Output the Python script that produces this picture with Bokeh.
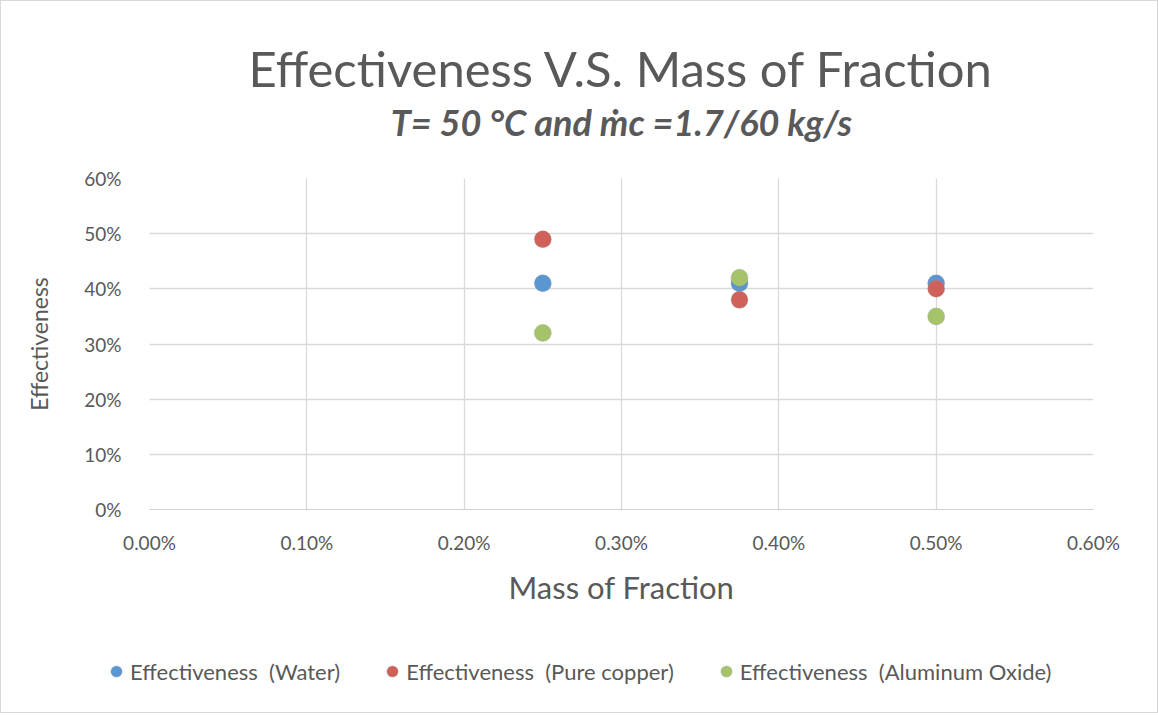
from bokeh.plotting import figure
from bokeh.layouts import column
from bokeh.models import (ColumnDataSource, Legend, LegendItem, Title, NumeralTickFormatter,
                          FixedTicker, Range1d)
from bokeh.embed import file_html
from bokeh.resources import INLINE

# Data
mass_fraction = [0.0025, 0.00375, 0.005]
eff_water = [0.41, 0.41, 0.41]
eff_copper = [0.49, 0.38, 0.40]
eff_alox = [0.32, 0.42, 0.35]
series_names = ["Effectiveness \u00a0(Water)", "Effectiveness \u00a0(Pure copper)", "Effectiveness \u00a0(Aluminum Oxide)"]
series_colors = ["#5A96D2", "#D0605A", "#A5C46A"]
x_ticks = [0, 0.001, 0.002, 0.003, 0.004, 0.005, 0.006]
y_ticks = [0, 0.1, 0.2, 0.3, 0.4, 0.5, 0.6]

FONT = "Lato"
TXT = "#595959"

p = figure(frame_width=944, frame_height=331, output_backend="svg", toolbar_location=None,
           x_range=Range1d(0, 0.006), y_range=Range1d(0, 0.6),
           min_border_left=148, min_border_right=64, min_border_top=177, min_border_bottom=115)
p.outline_line_color = None
p.background_fill_color = "white"
p.border_fill_color = "white"

# Titles
sub = Title(text="T= 50 °C and ṁc =1.7/60 kg/s", align="center", text_font=FONT,
            text_font_size="36px", text_font_style="bold italic", text_color=TXT,
            text_line_height=1.0, standoff=69)
main = Title(text="Effectiveness V.S. Mass of Fraction", align="center", text_font=FONT,
             text_font_size="49px", text_font_style="normal", text_color=TXT,
             text_line_height=0.8, standoff=-66)
p.add_layout(sub, "above")
p.add_layout(main, "above")
p.title.visible = False

# Axes
p.xaxis.ticker = FixedTicker(ticks=x_ticks)
p.yaxis.ticker = FixedTicker(ticks=y_ticks)
p.xaxis.formatter = NumeralTickFormatter(format="0.00%")
p.yaxis.formatter = NumeralTickFormatter(format="0%")
for ax in (p.xaxis, p.yaxis):
    ax.major_label_text_font = FONT
    ax.major_label_text_font_size = "19px"
    ax.major_label_text_color = TXT
    ax.major_tick_line_color = None
    ax.minor_tick_line_color = None
    ax.axis_label_text_font = FONT
    ax.axis_label_text_font_style = "normal"
    ax.axis_label_text_color = TXT
p.xaxis.axis_line_color = "#d0d0d0"
p.yaxis.axis_line_color = None
p.xaxis.major_label_standoff = 15
p.yaxis.major_label_standoff = 22
p.xaxis.axis_label = "Mass of Fraction"
p.xaxis.axis_label_text_font_size = "31px"
p.xaxis.axis_label_standoff = 11
p.yaxis.axis_label = "Effectiveness"
p.yaxis.axis_label_text_font_size = "23px"
p.yaxis.axis_label_standoff = 28

p.xgrid.grid_line_color = "#d9d9d9"
p.ygrid.grid_line_color = "#d9d9d9"
p.xgrid.grid_line_width = 1.3
p.ygrid.grid_line_width = 1.3

src = ColumnDataSource(dict(x=mass_fraction, w=eff_water, c=eff_copper, a=eff_alox))
for col, color in zip(["w", "c", "a"], series_colors):
    p.scatter("x", col, source=src, size=17, fill_color=color, line_color="#9a9a9a",
              line_width=0.6, line_alpha=0.6)

# Legend strip (renderers with the same data, outside its visible range, only used for keys)
lg = figure(width=1156, height=88, output_backend="svg", toolbar_location=None,
            x_range=Range1d(10, 11), y_range=Range1d(10, 11),
            x_axis_type=None, y_axis_type=None, min_border=0)
lg.outline_line_color = None
lg.xgrid.visible = False
lg.ygrid.visible = False
lg.border_fill_color = "white"

loc_x = 101
font_px = "22px"
try:
    p.frame_align = False
    lg.frame_align = False
except Exception:
    loc_x = 0
    font_px = "20px"

key_renderers = []
for col, color in zip(["w", "c", "a"], series_colors):
    r = lg.scatter("x", col, source=src, size=17, fill_color=color, line_color="#9a9a9a",
                   line_width=0.6, line_alpha=0.6)
    key_renderers.append(r)

legend = Legend(items=[LegendItem(label=n, renderers=[r]) for n, r in zip(series_names, key_renderers)],
                orientation="horizontal", location=(loc_x, 27),
                label_text_font=FONT, label_text_font_size=font_px, label_text_color=TXT,
                border_line_color=None, background_fill_alpha=0,
                spacing=38, glyph_width=28, glyph_height=28, label_standoff=0, padding=0, margin=0)
lg.add_layout(legend, "center")

layout = column(p, lg, spacing=0)
layout.styles = {"border": "1px solid #d9d9d9"}

open("out.html", "w").write(file_html(layout, INLINE))
